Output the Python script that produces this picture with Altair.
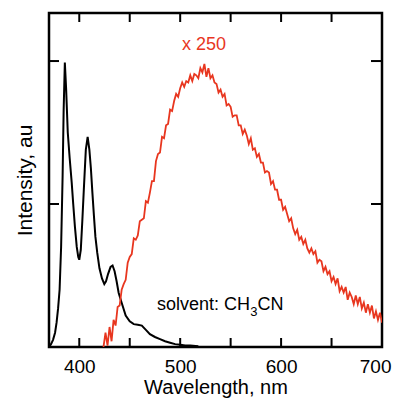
import altair as alt
import pandas as pd

# Black emission spectrum (wavelength nm, intensity au)
black_w = [370, 372, 374, 376, 377.5, 379, 380.5, 382, 383.5, 384.5, 385.7, 387, 388.6, 390.5,
           392.5, 394, 395.7, 397.5, 399, 400, 401.5, 403, 404.5, 406.5, 408.3, 410, 411.5, 413,
           414.6, 416, 417.8, 420, 422.5, 424.8, 426.5, 428.5, 431, 433, 435, 437, 439, 442, 446,
           450, 454, 458, 462, 466, 470, 475, 480, 485, 490, 495, 500, 505, 510, 518]
black_v = [0.00, 0.02, 0.05, 0.10, 0.17, 0.27, 0.40, 0.70, 1.20, 1.65, 1.99, 1.80, 1.50, 1.32,
           1.15, 1.00, 0.84, 0.70, 0.63, 0.61, 0.68, 0.88, 1.10, 1.38, 1.47, 1.38, 1.25, 1.08,
           0.91, 0.77, 0.66, 0.55, 0.48, 0.44, 0.46, 0.51, 0.56, 0.57, 0.53, 0.46, 0.38, 0.31, 0.22,
           0.18, 0.16, 0.155, 0.15, 0.12, 0.09, 0.07, 0.055, 0.04, 0.03, 0.02, 0.015, 0.01, 0.01, 0.005]

# Red emission spectrum (x 250), every 2 nm from 424 to 700
red_w = list(range(424, 701, 2))
red_v = [0.00, 0.10, 0.01, 0.14, 0.04, 0.19, 0.15, 0.28, 0.29, 0.40, 0.44, 0.47, 0.59, 0.63,
         0.65, 0.76, 0.75, 0.78, 0.88, 0.89, 0.90, 1.02, 1.01, 1.08, 1.16, 1.16, 1.30, 1.35,
         1.36, 1.47, 1.46, 1.55, 1.56, 1.66, 1.65, 1.72, 1.77, 1.75, 1.81, 1.85, 1.82, 1.86,
         1.85, 1.90, 1.86, 1.91, 1.90, 1.88, 1.95, 1.92, 1.98, 1.89, 1.95, 1.88, 1.90, 1.85,
         1.84, 1.78, 1.80, 1.75, 1.77, 1.69, 1.70, 1.68, 1.61, 1.62, 1.62, 1.55, 1.55, 1.49,
         1.52, 1.48, 1.42, 1.46, 1.38, 1.39, 1.33, 1.35, 1.29, 1.29, 1.22, 1.23, 1.22, 1.14,
         1.16, 1.10, 1.10, 1.03, 1.03, 0.96, 0.98, 0.93, 0.88, 0.90, 0.83, 0.79, 0.82, 0.75,
         0.77, 0.72, 0.75, 0.69, 0.66, 0.69, 0.65, 0.67, 0.59, 0.61, 0.60, 0.53, 0.56, 0.51,
         0.53, 0.46, 0.49, 0.44, 0.48, 0.39, 0.42, 0.38, 0.42, 0.33, 0.38, 0.35, 0.30, 0.36,
         0.30, 0.35, 0.27, 0.31, 0.24, 0.30, 0.24, 0.29, 0.20, 0.25, 0.19, 0.24, 0.17]

x_label_values = [400, 500, 600, 700]
x_tick_values = [400, 450, 500, 550, 600, 650]
y_tick_values = [1, 2]

X_DOMAIN = [370, 700]
Y_DOMAIN = [0, 2.336]
W, H = 333, 334
FONT = "Liberation Sans"
RED = "#e8361f"

df_black = pd.DataFrame({"w": black_w, "v": black_v})
df_red = pd.DataFrame({"w": red_w, "v": red_v})
df_xt = pd.DataFrame({"w": x_tick_values})
df_yt = pd.DataFrame({"v": y_tick_values})

xs = alt.Scale(domain=X_DOMAIN, nice=False, zero=False)
ys = alt.Scale(domain=Y_DOMAIN, nice=False, zero=False)

x_axis = alt.Axis(values=x_label_values, labelFontSize=19, labelFont=FONT,
                  titleFont=FONT, titleFontSize=20, titleFontWeight="normal", ticks=False,
                  domain=False, grid=False, labelPadding=10, titlePadding=1,
                  labelColor="black", titleColor="black", labelFlush=True,
                  labelFlushOffset=9)
y_axis = alt.Axis(labels=False, ticks=False, domain=False, grid=False, titleFont=FONT,
                  titleFontSize=21, titleFontWeight="normal", titlePadding=14,
                  titleColor="black")


def X():
    return alt.X("w:Q", scale=xs, axis=x_axis, title="Wavelength, nm")


def Y():
    return alt.Y("v:Q", scale=ys, axis=y_axis, title="Intensity, au")


black = alt.Chart(df_black).mark_line(color="black", strokeWidth=2, clip=True).encode(
    x=X(), y=Y())
red = alt.Chart(df_red).mark_line(color=RED, strokeWidth=1.8, clip=True).encode(
    x=X(), y=Y())

bot_ticks = alt.Chart(df_xt).mark_rule(color="black", strokeWidth=2).encode(
    x=X(), y=alt.value(H), y2=alt.value(H - 9))
top_ticks = alt.Chart(df_xt).mark_rule(color="black", strokeWidth=2).encode(
    x=X(), y=alt.value(0), y2=alt.value(9))
left_ticks = alt.Chart(df_yt).mark_rule(color="black", strokeWidth=2).encode(
    y=Y(), x=alt.value(0), x2=alt.value(10))
right_ticks = alt.Chart(df_yt).mark_rule(color="black", strokeWidth=2).encode(
    y=Y(), x=alt.value(W), x2=alt.value(W - 11))

ann_scale = pd.DataFrame({"w": [523.5], "v": [2.11], "t": ["x 250"]})
t_scale = alt.Chart(ann_scale).mark_text(color=RED, fontSize=18, font=FONT, align="center",
                                         baseline="middle").encode(
    x=X(), y=Y(), text="t:N")

ann_main = pd.DataFrame({"w": [477], "v": [0.26], "t": ["solvent: CH"]})
ann_sub = pd.DataFrame({"w": [569.5], "v": [0.215], "t": ["3"]})
ann_end = pd.DataFrame({"w": [576.5], "v": [0.26], "t": ["CN"]})
t_main = alt.Chart(ann_main).mark_text(color="black", fontSize=18, font=FONT, align="left",
                                       baseline="alphabetic").encode(
    x=X(), y=Y(), text="t:N")
t_sub = alt.Chart(ann_sub).mark_text(color="black", fontSize=13, font=FONT, align="left",
                                     baseline="alphabetic").encode(
    x=X(), y=Y(), text="t:N")
t_end = alt.Chart(ann_end).mark_text(color="black", fontSize=18, font=FONT, align="left",
                                     baseline="alphabetic").encode(
    x=X(), y=Y(), text="t:N")

chart = alt.layer(black, red, bot_ticks, top_ticks, left_ticks, right_ticks,
                  t_scale, t_main, t_sub, t_end).properties(
    width=W, height=H,
    autosize=alt.AutoSizeParams(type="none"),
    padding={"left": 41, "top": 5, "right": 10, "bottom": 52},
).configure_view(stroke="black", strokeWidth=2.5)

chart.save("out.html", embed_options={"renderer": "svg", "actions": False})
